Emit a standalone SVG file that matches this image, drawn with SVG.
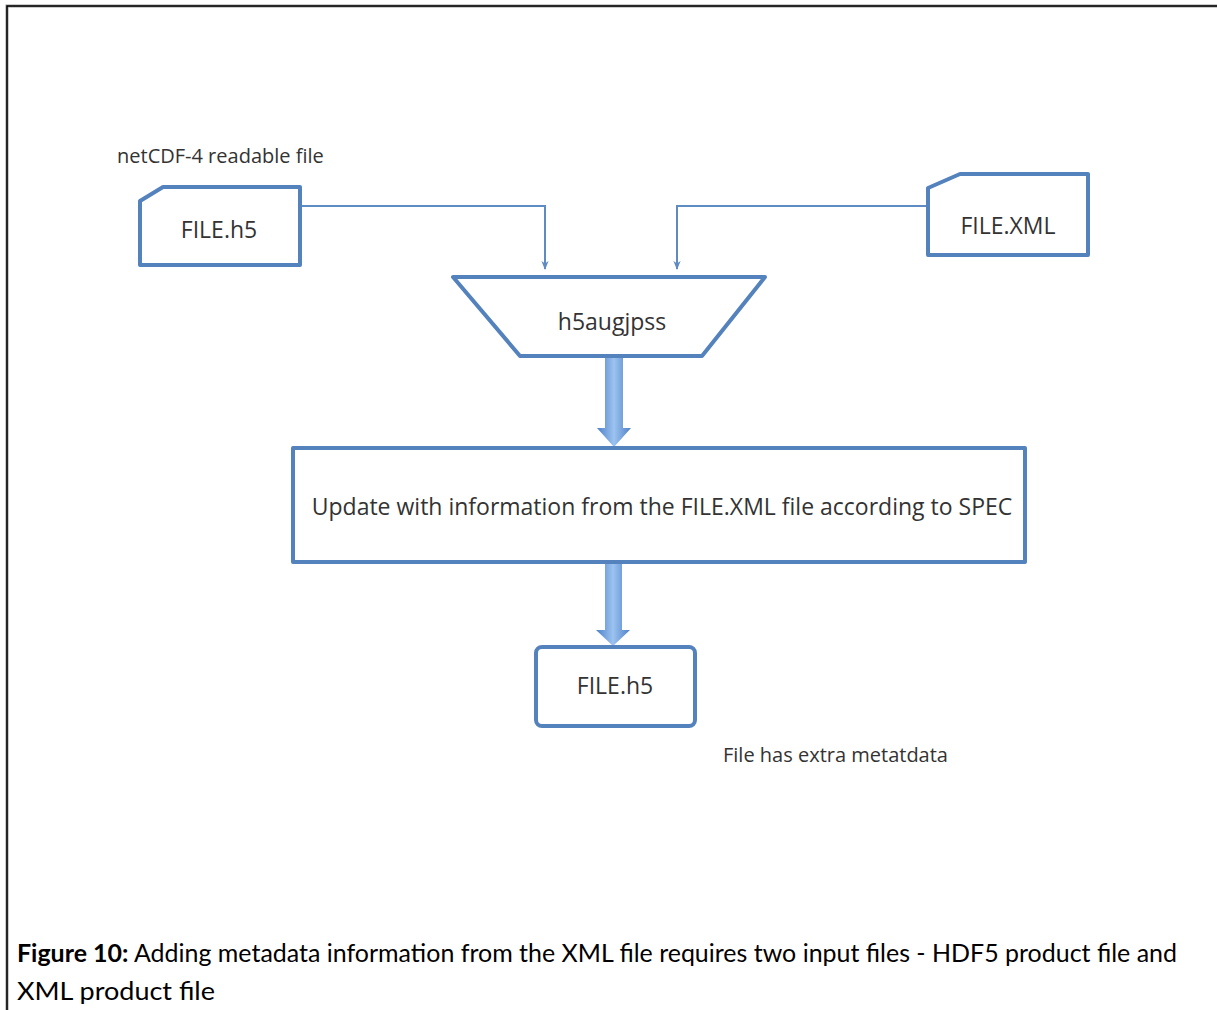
<svg xmlns="http://www.w3.org/2000/svg" width="1217" height="1010" viewBox="0 0 1217 1010">
<style>
.node{fill:#ffffff;stroke:#5482bd;stroke-width:4;stroke-linejoin:round}
.lbl{font-family:"Open Sans","Liberation Sans",sans-serif;fill:#333333;text-anchor:middle;font-size:23px}
.note{font-family:"Open Sans","Liberation Sans",sans-serif;fill:#333333;font-size:20px}
.thin{fill:none;stroke:#5f8bc3;stroke-width:2}
.cap{font-family:"Lato","Liberation Sans",sans-serif;fill:#000000;font-size:25px}
</style>
<defs>
<marker id="ah" viewBox="0 0 10 10" refX="9" refY="5" markerWidth="9" markerHeight="11" orient="auto" markerUnits="userSpaceOnUse">
<path d="M0,1 L10,5 L0,9 L3,5 Z" fill="#5f8bc3"/>
</marker>
<linearGradient id="fat" x1="0" y1="0" x2="1" y2="0">
<stop offset="0" stop-color="#4f81c8"/>
<stop offset="0.5" stop-color="#9cc3f0"/>
<stop offset="1" stop-color="#4f81c8"/>
</linearGradient>
</defs>
<rect width="1217" height="1010" fill="#ffffff"/>
<g id="frame">
<path d="M7,1010 V6 H1217" fill="none" stroke="#9a9a9a" stroke-width="3"/>
<path d="M7,1010 V6 H1217" fill="none" stroke="#000000" stroke-width="1.5"/>
</g>
<g id="connectors">
<path class="thin" d="M301,206 H545 V269" marker-end="url(#ah)"/>
<path class="thin" d="M926,206 H677 V269" marker-end="url(#ah)"/>
<path d="M605,357 H623 V428 H631 L614,447 L597,428 H605 Z" fill="url(#fat)"/>
<path d="M605,564 H622 V630 H630 L613,646 L596,630 H605 Z" fill="url(#fat)"/>
</g>
<g id="note-netcdf">
<text class="note" x="117" y="163">netCDF-4 readable file</text>
</g>
<g id="file-h5-in">
<path class="node" d="M163,187 H300 V265 H140 V201 Z"/>
<text class="lbl" x="219" y="238">FILE.h5</text>
</g>
<g id="file-xml">
<path class="node" d="M960,174 H1088 V255 H928 V188 Z"/>
<text class="lbl" x="1008" y="234">FILE.XML</text>
</g>
<g id="h5augjpss">
<path class="node" d="M453,277 H765 L702,356 H520 Z"/>
<text class="lbl" x="612" y="330">h5augjpss</text>
</g>
<g id="update">
<rect class="node" x="293" y="448" width="732" height="114" stroke-width="2.5"/>
<text class="lbl" x="662" y="515" font-size="24">Update with information from the FILE.XML file according to SPEC</text>
</g>
<g id="file-h5-out">
<rect class="node" x="536" y="647" width="159" height="79" rx="6"/>
<text class="lbl" x="615" y="694">FILE.h5</text>
</g>
<g id="note-extra">
<text class="note" x="723" y="762">File has extra metatdata</text>
</g>
<g id="caption">
<text class="cap" x="17" y="962" textLength="1160" lengthAdjust="spacingAndGlyphs"><tspan font-weight="bold">Figure 10:</tspan> Adding metadata information from the XML file requires two input files - HDF5 product file and</text>
<text class="cap" x="17" y="1000" textLength="198" lengthAdjust="spacingAndGlyphs">XML product file</text>
</g>
</svg>
